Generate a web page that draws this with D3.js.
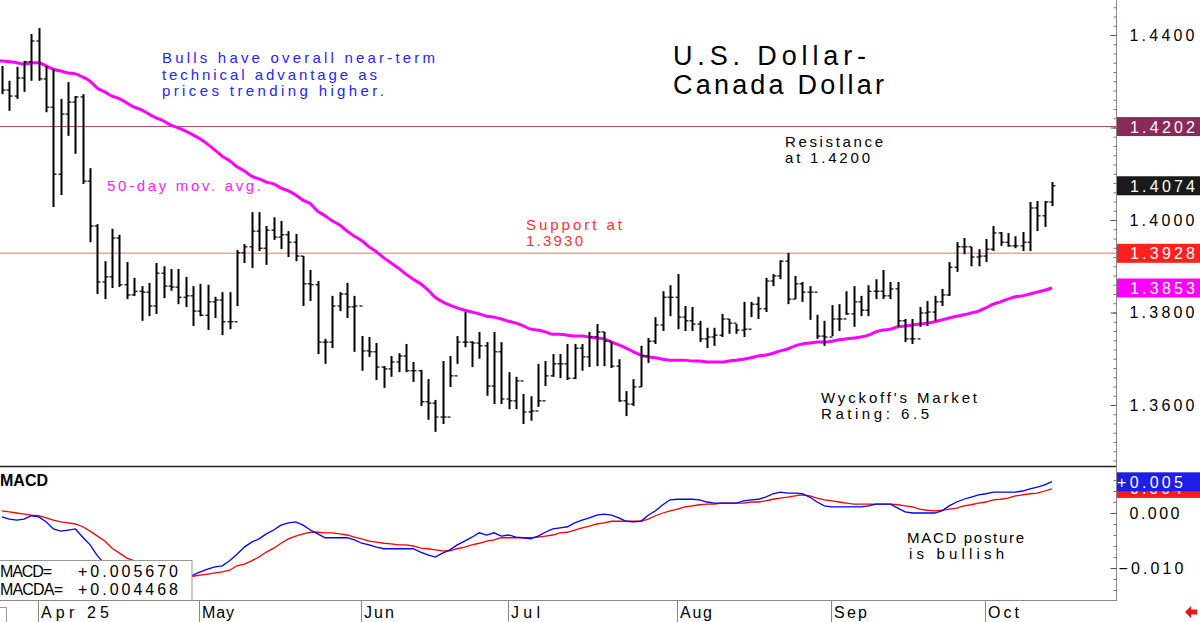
<!DOCTYPE html>
<html>
<head>
<meta charset="utf-8">
<script src="https://cdn.jsdelivr.net/npm/d3@7"></script>
<style>
	body { margin: 0; background: #fff; }
	text { font-family: "Liberation Sans", Arial, sans-serif; }
</style>
</head>
<body>
<svg id="chart" width="1200" height="622"></svg>
<script>
// daily bars, late Mar 2025 -> mid Oct 2025
var highs = [1.4333,1.4301,1.4331,1.4344,1.4402,1.4415,1.4333,1.4326,1.4262,1.4298,
	1.4268,1.4272,1.4112,1.3991,1.3911,1.3981,1.3968,1.3909,1.3875,1.3857,
	1.3864,1.3907,1.3900,1.3894,1.3894,1.3877,1.3857,1.3862,1.3860,1.3834,
	1.3844,1.3844,1.3935,1.3948,1.4017,1.4017,1.3987,1.4006,1.3998,1.3976,
	1.3970,1.3922,1.3892,1.3868,1.3743,1.3836,1.3844,1.3864,1.3836,1.3749,
	1.3747,1.3734,1.3684,1.3706,1.3712,1.3732,1.3693,1.3676,1.3656,1.3611,
	1.3695,1.3706,1.3749,1.3801,1.3738,1.3758,1.3736,1.3758,1.3736,1.3671,
	1.3661,1.3624,1.3619,1.3689,1.3695,1.3710,1.3710,1.3732,1.3732,1.3732,
	1.3758,1.3775,1.3758,1.3736,1.3699,1.3630,1.3656,1.3728,1.3745,1.3790,
	1.3846,1.3859,1.3883,1.3814,1.3812,1.3782,1.3767,1.3767,1.3797,1.3786,
	1.3775,1.3823,1.3823,1.3834,1.3875,1.3883,1.3913,1.3929,1.3879,1.3866,
	1.3857,1.3795,1.3782,1.3816,1.3818,1.3846,1.3857,1.3836,1.3859,1.3872,
	1.3892,1.3866,1.3866,1.3786,1.3786,1.3812,1.3825,1.3836,1.3851,1.3909,
	1.3952,1.3961,1.3942,1.3937,1.3959,1.3987,1.3974,1.3972,1.3965,1.3974,
	1.4039,1.4041,1.4041,1.4082];

var lows = [1.4272,1.4236,1.4262,1.4277,1.4301,1.4301,1.4233,1.4028,1.4054,1.4182,
	1.4143,1.4078,1.3952,1.3840,1.3829,1.3853,1.3855,1.3829,1.3836,1.3782,
	1.3792,1.3797,1.3831,1.3847,1.3818,1.3812,1.3771,1.3792,1.3762,1.3788,
	1.3751,1.3764,1.3814,1.3907,1.3896,1.3933,1.3903,1.3957,1.3937,1.3920,
	1.3911,1.3814,1.3825,1.3710,1.3689,1.3723,1.3803,1.3788,1.3715,1.3674,
	1.3704,1.3654,1.3637,1.3661,1.3671,1.3671,1.3650,1.3598,1.3568,1.3542,
	1.3559,1.3639,1.3689,1.3725,1.3682,1.3700,1.3620,1.3602,1.3602,1.3591,
	1.3591,1.3559,1.3566,1.3596,1.3641,1.3661,1.3658,1.3654,1.3656,1.3674,
	1.3682,1.3684,1.3684,1.3680,1.3607,1.3576,1.3598,1.3639,1.3691,1.3732,
	1.3760,1.3792,1.3764,1.3760,1.3760,1.3736,1.3723,1.3728,1.3747,1.3754,
	1.3754,1.3747,1.3790,1.3786,1.3801,1.3857,1.3872,1.3818,1.3829,1.3823,
	1.3784,1.3743,1.3728,1.3749,1.3760,1.3795,1.3769,1.3792,1.3792,1.3829,
	1.3829,1.3829,1.3769,1.3736,1.3732,1.3769,1.3771,1.3782,1.3814,1.3836,
	1.3888,1.3926,1.3900,1.3900,1.3909,1.3933,1.3944,1.3942,1.3939,1.3933,
	1.3933,1.3976,1.3985,1.4030];

var closes = [1.4281,1.4268,1.4307,1.4342,1.4387,1.4305,1.4244,1.4099,1.4229,1.4255,
	1.4266,1.4084,1.3987,1.3866,1.3877,1.3961,1.3860,1.3838,1.3846,1.3844,
	1.3814,1.3885,1.3857,1.3855,1.3833,1.3836,1.3803,1.3794,1.3823,1.3827,
	1.3780,1.3780,1.3929,1.3942,1.3976,1.3939,1.3978,1.3963,1.3968,1.3952,
	1.3922,1.3862,1.3860,1.3736,1.3736,1.3814,1.3840,1.3812,1.3814,1.3717,
	1.3715,1.3682,1.3678,1.3693,1.3706,1.3674,1.3674,1.3607,1.3604,1.3574,
	1.3574,1.3663,1.3736,1.3736,1.3734,1.3728,1.3641,1.3715,1.3613,1.3609,
	1.3652,1.3585,1.3587,1.3609,1.3663,1.3689,1.3689,1.3658,1.3723,1.3704,
	1.3747,1.3758,1.3738,1.3684,1.3609,1.3602,1.3639,1.3706,1.3738,1.3773,
	1.3833,1.3833,1.3790,1.3782,1.3775,1.3743,1.3747,1.3751,1.3786,1.3777,
	1.3762,1.3764,1.3818,1.3808,1.3868,1.3879,1.3911,1.3829,1.3862,1.3844,
	1.3844,1.3749,1.3747,1.3786,1.3786,1.3797,1.3823,1.3805,1.3846,1.3846,
	1.3836,1.3851,1.3782,1.3743,1.3743,1.3799,1.3801,1.3823,1.3838,1.3898,
	1.3942,1.3942,1.3920,1.3922,1.3937,1.3972,1.3952,1.3944,1.3944,1.3952,
	1.4026,1.4009,1.4039,1.4074];

var ma50 = [1.4344,1.4342,1.4340,1.4337,1.4340,1.4340,1.4333,1.4326,1.4322,1.4318,
	1.4316,1.4309,1.4300,1.4285,1.4277,1.4268,1.4262,1.4253,1.4244,1.4238,
	1.4229,1.4221,1.4214,1.4205,1.4199,1.4192,1.4184,1.4175,1.4164,1.4151,
	1.4138,1.4128,1.4115,1.4106,1.4095,1.4089,1.4082,1.4078,1.4069,1.4063,
	1.4054,1.4043,1.4035,1.4019,1.4009,1.3998,1.3989,1.3976,1.3965,1.3955,
	1.3942,1.3931,1.3918,1.3907,1.3896,1.3883,1.3872,1.3862,1.3849,1.3833,
	1.3823,1.3816,1.3810,1.3805,1.3801,1.3797,1.3792,1.3790,1.3786,1.3781,
	1.3777,1.3771,1.3764,1.3762,1.3758,1.3753,1.3753,1.3751,1.3749,1.3749,
	1.3747,1.3745,1.3743,1.3736,1.3730,1.3723,1.3715,1.3708,1.3704,1.3702,
	1.3699,1.3697,1.3697,1.3697,1.3695,1.3695,1.3693,1.3693,1.3693,1.3695,
	1.3697,1.3699,1.3702,1.3706,1.3708,1.3712,1.3717,1.3721,1.3728,1.3732,
	1.3734,1.3736,1.3736,1.3738,1.3741,1.3743,1.3745,1.3747,1.3751,1.3758,
	1.3762,1.3764,1.3769,1.3771,1.3773,1.3775,1.3777,1.3780,1.3784,1.3788,
	1.3792,1.3795,1.3799,1.3803,1.3810,1.3818,1.3823,1.3829,1.3834,1.3836,
	1.3840,1.3844,1.3848,1.3853];

var macd = [-0.0007,-0.0011,-0.0013,-0.0011,-0.0005,-0.0007,-0.0016,-0.0029,-0.0033,-0.0031,
	-0.0029,-0.0044,-0.0058,-0.0078,-0.0093,-0.0104,-0.0115,-0.0124,-0.0131,-0.0135,
	-0.0136,-0.0136,-0.0133,-0.0127,-0.0122,-0.0116,-0.0113,-0.0107,-0.0102,-0.0098,
	-0.0096,-0.0087,-0.0075,-0.0062,-0.0053,-0.0047,-0.0038,-0.0031,-0.0022,-0.0018,
	-0.0016,-0.0022,-0.0031,-0.0038,-0.0045,-0.0045,-0.0045,-0.0045,-0.0049,-0.0055,
	-0.0058,-0.0062,-0.0065,-0.0065,-0.0065,-0.0065,-0.0065,-0.0071,-0.0076,-0.0080,
	-0.0073,-0.0067,-0.0058,-0.0051,-0.0044,-0.0036,-0.0040,-0.0036,-0.0042,-0.0040,
	-0.0044,-0.0045,-0.0047,-0.0042,-0.0035,-0.0029,-0.0027,-0.0025,-0.0018,-0.0013,
	-0.0009,-0.0004,-0.0002,-0.0004,-0.0009,-0.0015,-0.0016,-0.0015,-0.0004,0.0004,
	0.0015,0.0024,0.0025,0.0025,0.0025,0.0024,0.0020,0.0018,0.0018,0.0018,
	0.0018,0.0022,0.0024,0.0025,0.0029,0.0035,0.0038,0.0036,0.0036,0.0035,
	0.0029,0.0020,0.0013,0.0011,0.0011,0.0011,0.0011,0.0011,0.0013,0.0016,
	0.0016,0.0016,0.0009,0.0002,0.0000,0.0000,0.0000,0.0000,0.0004,0.0013,
	0.0020,0.0025,0.0029,0.0033,0.0035,0.0038,0.0038,0.0038,0.0038,0.0040,
	0.0044,0.0047,0.0051,0.0057];

var macdAvg = [0.0004,0.0002,0.0000,-0.0002,-0.0004,-0.0005,-0.0009,-0.0013,-0.0016,-0.0018,
	-0.0020,-0.0025,-0.0033,-0.0042,-0.0051,-0.0064,-0.0073,-0.0082,-0.0087,-0.0096,
	-0.0102,-0.0107,-0.0111,-0.0115,-0.0116,-0.0116,-0.0115,-0.0113,-0.0111,-0.0109,
	-0.0107,-0.0104,-0.0096,-0.0093,-0.0087,-0.0080,-0.0071,-0.0064,-0.0055,-0.0047,
	-0.0042,-0.0038,-0.0035,-0.0035,-0.0036,-0.0036,-0.0038,-0.0040,-0.0044,-0.0047,
	-0.0051,-0.0053,-0.0055,-0.0056,-0.0058,-0.0058,-0.0060,-0.0064,-0.0065,-0.0067,
	-0.0069,-0.0069,-0.0065,-0.0062,-0.0058,-0.0055,-0.0051,-0.0049,-0.0045,-0.0045,
	-0.0045,-0.0045,-0.0045,-0.0044,-0.0042,-0.0040,-0.0036,-0.0035,-0.0031,-0.0027,
	-0.0024,-0.0020,-0.0018,-0.0015,-0.0015,-0.0015,-0.0015,-0.0015,-0.0011,-0.0005,
	0.0000,0.0004,0.0007,0.0011,0.0013,0.0015,0.0016,0.0016,0.0018,0.0018,
	0.0018,0.0018,0.0020,0.0020,0.0022,0.0025,0.0027,0.0029,0.0031,0.0033,
	0.0031,0.0027,0.0024,0.0022,0.0020,0.0018,0.0016,0.0016,0.0016,0.0016,
	0.0016,0.0016,0.0015,0.0013,0.0011,0.0007,0.0005,0.0004,0.0005,0.0007,
	0.0009,0.0013,0.0015,0.0018,0.0020,0.0024,0.0025,0.0027,0.0031,0.0033,
	0.0035,0.0036,0.0040,0.0044];

// first bar of each month (bar index) and its label
var monthStart = [5, 27, 49, 69, 92, 113, 134];
var monthLabels = ["Apr 25", "May", "Jun", "Jul", "Aug", "Sep", "Oct"];

var priceTicks = [1.36, 1.38, 1.40, 1.42, 1.44];
var macdTicks = [0, -0.01];

var resistance = 1.4202, support = 1.3928;
var lastMacd = 0.005670, lastMacdAvg = 0.004468;

var svg = d3.select("#chart");
var W = 1200, axisX = 1116;

var x = d3.scaleLinear().domain([0, closes.length - 1]).range([2, 1052]);
var y = d3.scaleLinear().domain([1.36, 1.44]).range([405, 35]);
var ym = d3.scaleLinear().domain([-0.01, 0]).range([568, 513]);

function label(g, str, px, py, opts) {
	opts = opts || {};
	var t = g.append("text")
		.attr("x", px)
		.attr("y", py)
		.attr("font-size", opts.size || 15)
		.attr("fill", opts.fill || "#000")
		.text(str);
	if (opts.width) t.attr("textLength", opts.width).attr("lengthAdjust", "spacing");
	if (opts.weight) t.attr("font-weight", opts.weight);
	return t;
}

// the chart's tags cut the value, they do not round it
function cut3(v) {
	var s = (Math.floor(Math.abs(v) * 1000) / 1000).toFixed(3);
	return (v < 0 ? "-" : "+") + s;
}

// ---- price panel ----
var price = svg.append("g");

price.append("line")
	.attr("x1", 0).attr("x2", axisX)
	.attr("y1", y(resistance)).attr("y2", y(resistance))
	.attr("stroke", "#9a4a72").attr("stroke-width", 1);

price.append("line")
	.attr("x1", 0).attr("x2", axisX)
	.attr("y1", y(support)).attr("y2", y(support))
	.attr("stroke", "#ff9c9c").attr("stroke-width", 1.5);

var maLine = d3.line()
	.x(function (d, i) { return x(i); })
	.y(function (d) { return y(d); })
	.curve(d3.curveMonotoneX);

price.append("path")
	.datum(ma50)
	.attr("d", function (d) { return "M0," + y(d[0]) + "L" + maLine(d).slice(1); })
	.attr("fill", "none")
	.attr("stroke", "#ff00ff")
	.attr("stroke-width", 3);

var bars = price.append("g").attr("stroke", "#000");
closes.forEach(function (c, i) {
	var cx = Math.round(x(i)) + 0.5;
	bars.append("line")
		.attr("x1", cx).attr("x2", cx)
		.attr("y1", y(highs[i])).attr("y2", y(lows[i]))
		.attr("stroke-width", 2);
	if (i > 0) {
		bars.append("line")
			.attr("x1", cx - 3).attr("x2", cx)
			.attr("y1", y(closes[i - 1])).attr("y2", y(closes[i - 1]))
			.attr("stroke-width", 1.2);
	}
	bars.append("line")
		.attr("x1", cx).attr("x2", cx + 3)
		.attr("y1", y(c)).attr("y2", y(c))
		.attr("stroke-width", 1.2);
});

// annotations
label(price, "Bulls have overall near-term", 162, 63, {fill: "#2424ff", width: 273});
label(price, "technical advantage as", 162, 80, {fill: "#2424ff", width: 215});
label(price, "prices trending higher.", 162, 96, {fill: "#2424ff", width: 222});
label(price, "U.S. Dollar-", 673, 65, {size: 27, width: 193});
label(price, "Canada Dollar", 673, 94, {size: 27, width: 211});
label(price, "Resistance", 785, 147, {width: 98});
label(price, "at 1.4200", 785, 163, {width: 85});
label(price, "50-day mov. avg.", 107, 191, {fill: "#ff22ff", width: 154});
label(price, "Support at", 526, 230, {fill: "#ff3030", width: 96});
label(price, "1.3930", 526, 246, {fill: "#ff3030", width: 57});
label(price, "Wyckoff's Market", 821, 403, {width: 156});
label(price, "Rating: 6.5", 821, 419, {width: 108});

// ---- MACD panel ----
var mp = svg.append("g");

var macdLine = d3.line()
	.x(function (d, i) { return x(i); })
	.y(function (d) { return ym(d); });

mp.append("path").datum(macdAvg)
	.attr("d", macdLine)
	.attr("fill", "none").attr("stroke", "#ff0000").attr("stroke-width", 1.3);

mp.append("path").datum(macd)
	.attr("d", macdLine)
	.attr("fill", "none").attr("stroke", "#0000ff").attr("stroke-width", 1.3);

label(mp, "MACD", 0, 486, {size: 16, weight: "bold"});
label(mp, "MACD posture", 907, 543, {width: 117});
label(mp, "is bullish", 909, 559, {width: 95});

var legend = mp.append("g");
legend.append("rect")
	.attr("x", -1).attr("y", 560.5).attr("width", 193).attr("height", 40)
	.attr("fill", "#fff").attr("stroke", "#999");
label(legend, "MACD=", 0, 577, {size: 16, width: 52});
label(legend, d3.format("+.6f")(lastMacd), 78, 577, {size: 16, width: 100});
label(legend, "MACDA=", 0, 595, {size: 16, width: 63});
label(legend, d3.format("+.6f")(lastMacdAvg), 78, 595, {size: 16, width: 100});

// ---- frames ----
svg.append("line")
	.attr("x1", 0).attr("x2", axisX).attr("y1", 466.5).attr("y2", 466.5)
	.attr("stroke", "#222").attr("stroke-width", 1.5);
svg.append("line")
	.attr("x1", 0).attr("x2", axisX).attr("y1", 600.5).attr("y2", 600.5)
	.attr("stroke", "#888");
svg.append("line")
	.attr("x1", axisX + 0.5).attr("x2", axisX + 0.5).attr("y1", 0).attr("y2", 601)
	.attr("stroke", "#888");

// ---- right axes ----
var minorP = d3.range(1.348, 1.4475, 0.002);
svg.append("g")
	.attr("transform", "translate(" + (axisX + 0.5) + ",0)")
	.call(d3.axisRight(y).tickValues(minorP).tickSizeInner(-3).tickSizeOuter(0).tickFormat(""))
	.call(function (g) { g.select(".domain").remove(); g.selectAll("line").attr("stroke", "#777"); });

var pAxis = svg.append("g")
	.attr("transform", "translate(" + (axisX + 0.5) + ",0)")
	.call(d3.axisRight(y).tickValues(priceTicks).tickSizeInner(-6).tickSizeOuter(0)
		.tickPadding(13).tickFormat(d3.format(".4f")));
pAxis.select(".domain").remove();
pAxis.selectAll("line").attr("stroke", "#555");
pAxis.selectAll("text")
	.attr("font-size", 16).attr("fill", "#000")
	.attr("font-family", "Liberation Sans, Arial, sans-serif")
	.attr("textLength", 65).attr("lengthAdjust", "spacing");

var minorM = d3.range(-0.016, 0.0105, 0.002);
svg.append("g")
	.attr("transform", "translate(" + (axisX + 0.5) + ",0)")
	.call(d3.axisRight(ym).tickValues(minorM.filter(function (v) { return ym(v) > 470 && ym(v) < 600; }))
		.tickSizeInner(-3).tickSizeOuter(0).tickFormat(""))
	.call(function (g) { g.select(".domain").remove(); g.selectAll("line").attr("stroke", "#777"); });

var mAxis = svg.append("g")
	.attr("transform", "translate(" + (axisX + 0.5) + ",0)")
	.call(d3.axisRight(ym).tickValues(macdTicks).tickSizeInner(-6).tickSizeOuter(0)
		.tickPadding(2).tickFormat(d3.format(".3f")));
mAxis.select(".domain").remove();
mAxis.selectAll("line").attr("stroke", "#555");
mAxis.selectAll("text")
	.attr("font-size", 16).attr("fill", "#000")
	.attr("font-family", "Liberation Sans, Arial, sans-serif")
	.attr("x", function (d) { return d < 0 ? 2 : 13; })
	.attr("textLength", function (d) { return d < 0 ? 65 : 50; })
	.attr("lengthAdjust", "spacing");

// value tags on the right
var tags = [
	{v: ym(lastMacdAvg), text: cut3(lastMacdAvg).slice(1), bg: "#ff1a1a"},
	{v: ym(lastMacd), text: cut3(lastMacd), bg: "#1e1ee6"},
	{v: y(resistance), text: d3.format(".4f")(resistance), bg: "#8a2a5a"},
	{v: y(closes[closes.length - 1]), text: d3.format(".4f")(closes[closes.length - 1]), bg: "#1a1a1a"},
	{v: y(support), text: d3.format(".4f")(support), bg: "#ff2020"},
	{v: y(ma50[ma50.length - 1]), text: d3.format(".4f")(ma50[ma50.length - 1]), bg: "#ff00ff"}
];
var tag = svg.append("g").selectAll("g").data(tags).join("g");
tag.append("rect")
	.attr("x", axisX + 1).attr("y", function (d) { return d.v - 9.5; })
	.attr("width", W - axisX - 1).attr("height", 19)
	.attr("fill", function (d) { return d.bg; });
tag.append("text")
	.attr("x", function (d) { return d.text.charAt(0) === "+" ? axisX + 1 : axisX + 14; })
	.attr("y", function (d) { return d.v + 6; })
	.attr("font-size", 16).attr("fill", "#fff")
	.attr("textLength", function (d) { return d.text.charAt(0) === "+" ? 66 : (d.text.length === 5 ? 52 : 65); })
	.attr("lengthAdjust", "spacing")
	.text(function (d) { return d.text; });

// ---- bottom month axis ----
var months = svg.append("g");
months.selectAll("line").data(monthStart).join("line")
	.attr("x1", function (d) { return Math.round(x(d)) - 0.5; })
	.attr("x2", function (d) { return Math.round(x(d)) - 0.5; })
	.attr("y1", 601).attr("y2", 622)
	.attr("stroke", "#888");
months.selectAll("text").data(monthStart).join("text")
	.attr("x", function (d) { return Math.round(x(d)) + 2; })
	.attr("y", 618)
	.attr("font-size", 16)
	.attr("textLength", function (d, i) { return [68, 32, 30, 29, 32, 33, 31][i]; })
	.attr("lengthAdjust", "spacing")
	.text(function (d, i) { return monthLabels[i]; });
months.append("path")
	.attr("d", "M0,607.5H6.5V622")
	.attr("fill", "none").attr("stroke", "#999");

svg.append("path")
	.attr("d", "M1185,612L1191,606V609.5H1197V614.5H1191V618Z")
	.attr("fill", "#ee1111");
</script>
</body>
</html>
